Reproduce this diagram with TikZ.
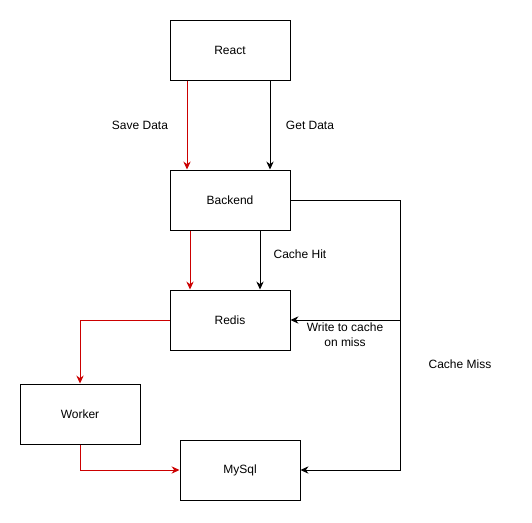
\documentclass[tikz,border=0pt]{standalone}
\usepackage{fontspec}
\setmainfont{Liberation Sans}
\usetikzlibrary{arrows.meta}
\definecolor{redline}{HTML}{CC0000}
\begin{document}
\begin{tikzpicture}[x=0.75pt,y=-0.75pt,
  box/.style={draw=black,line width=0.75pt,minimum width=90pt,minimum height=45pt,inner sep=0pt,font=\fontsize{9}{11}\selectfont},
  lbl/.style={font=\fontsize{9}{11}\selectfont,inner sep=1pt,align=center},
  conn/.style={line width=0.75pt,-{Stealth[length=6pt,width=5.5pt,inset=2pt]}},
  redc/.style={conn,draw=redline,color=redline},
  blkc/.style={conn,draw=black}]
\useasboundingbox (0,0) rectangle (532,522);
\node[box] (react) at (230,50) {React};
\node[box] (backend) at (230,200) {Backend};
\node[box] (redis) at (230,320) {Redis};
\node[box] (worker) at (80,414) {Worker};
\node[box] (mysql) at (240,470) {MySql};
\coordinate (tr) at (400,200);
\coordinate (br) at (400,470);
\coordinate (wr) at (400,320);
\coordinate (rl) at (80,320);
\coordinate (wb) at (80,470);
% React -> Backend
\draw[redc] (react.south -| 187,0) -- (backend.north -| 187,0);
\draw[blkc] (react.south -| 270,0) -- (backend.north -| 270,0);
\node[lbl] (save) at (140,125) {Save Data};
\node[lbl] (get) at (310,125) {Get Data};
% Backend -> Redis
\draw[redc] (backend.south -| 190,0) -- (redis.north -| 190,0);
\draw[blkc] (backend.south -| 260,0) -- (redis.north -| 260,0);
\node[lbl] (hit) at (300,254) {Cache Hit};
% Cache miss
\draw[blkc] (backend.east) -- (tr) -- (br) -- (mysql.east);
\node[lbl] (miss) at (460,364) {Cache Miss};
\draw[blkc] (wr) -- (redis.east);
\node[lbl] (write) at (345,335) {Write to cache\\on miss};
% Redis -> Worker -> MySql
\draw[redc] (redis.west) -- (rl) -- (worker.north);
\draw[redc] (worker.south) -- (wb) -- (mysql.west);
\end{tikzpicture}
\end{document}
